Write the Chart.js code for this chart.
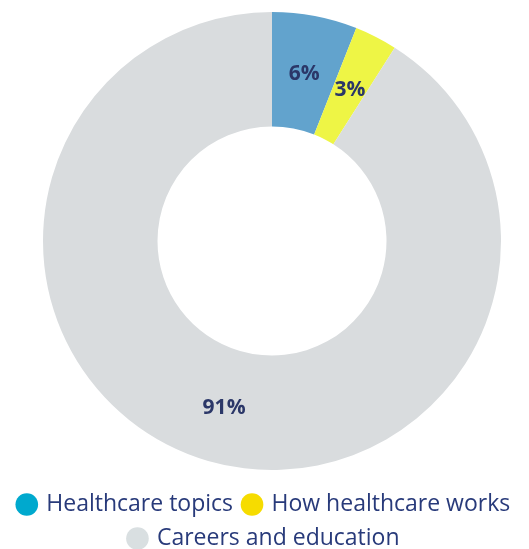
<!DOCTYPE html>
<html>
<head>
<meta charset="utf-8">
<script src="https://cdn.jsdelivr.net/npm/chart.js@4.4.0/dist/chart.umd.min.js"></script>
<style>
  html, body { margin: 0; padding: 0; background: #fff; overflow: hidden; }
  #wrap { width: 529px; height: 549px; }
</style>
</head>
<body>
<div id="wrap"><canvas id="grafico1" width="529" height="549"></canvas></div>
<script>
// data
var categorias = ['Healthcare topics', 'How healthcare works', 'Careers and education'];
var valores = [6, 3, 91];
var coloresSector = ['#62a3cd', '#eef545', '#d9dcde'];
var coloresLeyenda = ['#00a9ce', '#f6dc00', '#d9dfe1'];

// draws "6%" etc on each slice
var etiquetasPlugin = {
	id: 'etiquetas',
	afterDatasetsDraw: function(chart) {
		var ctx = chart.ctx;
		var meta = chart.getDatasetMeta(0);
		ctx.save();
		ctx.font = 'bold 21px "Open Sans"';
		ctx.fillStyle = '#2b3768';
		ctx.textAlign = 'center';
		ctx.textBaseline = 'middle';
		meta.data.forEach(function(arc, i) {
			var pos = arc.tooltipPosition();
			ctx.fillText(valores[i] + '%', pos.x, pos.y + 2);
		});
		ctx.restore();
	}
};

const ctx = document.getElementById('grafico1').getContext('2d');
window.grafica = new Chart(ctx, {
	type: 'doughnut',
	data: {
		labels: categorias,
		datasets: [{
			data: valores,
			backgroundColor: coloresSector,
			borderWidth: 0,
			radius: 229,
			cutout: '50%'
		}]
	},
	options: {
		responsive: false,
		animation: false,
		layout: { padding: { top: 0, bottom: -11 } },
		plugins: {
			tooltip: { enabled: false },
			// empty title on the left just pushes the ring to the right a bit
			title: {
				display: true,
				position: 'left',
				text: ' ',
				font: { size: 10, lineHeight: 1 },
				padding: { top: 0, bottom: 5 }
			},
			legend: {
				position: 'bottom',
				labels: {
					usePointStyle: true,
					pointStyle: 'circle',
					boxWidth: 16,
					boxHeight: 16,
					padding: 11,
					color: '#283a7a',
					font: { family: '"Open Sans"', size: 23 },
					generateLabels: function(chart) {
						return categorias.map(function(nombre, i) {
							return {
								text: nombre,
								fillStyle: coloresLeyenda[i],
								strokeStyle: coloresLeyenda[i],
								fontColor: '#283a7a',
								lineWidth: 0,
								pointStyle: 'circle',
								hidden: false,
								index: i
							};
						});
					}
				}
			}
		}
	},
	plugins: [etiquetasPlugin]
});
</script>
</body>
</html>
